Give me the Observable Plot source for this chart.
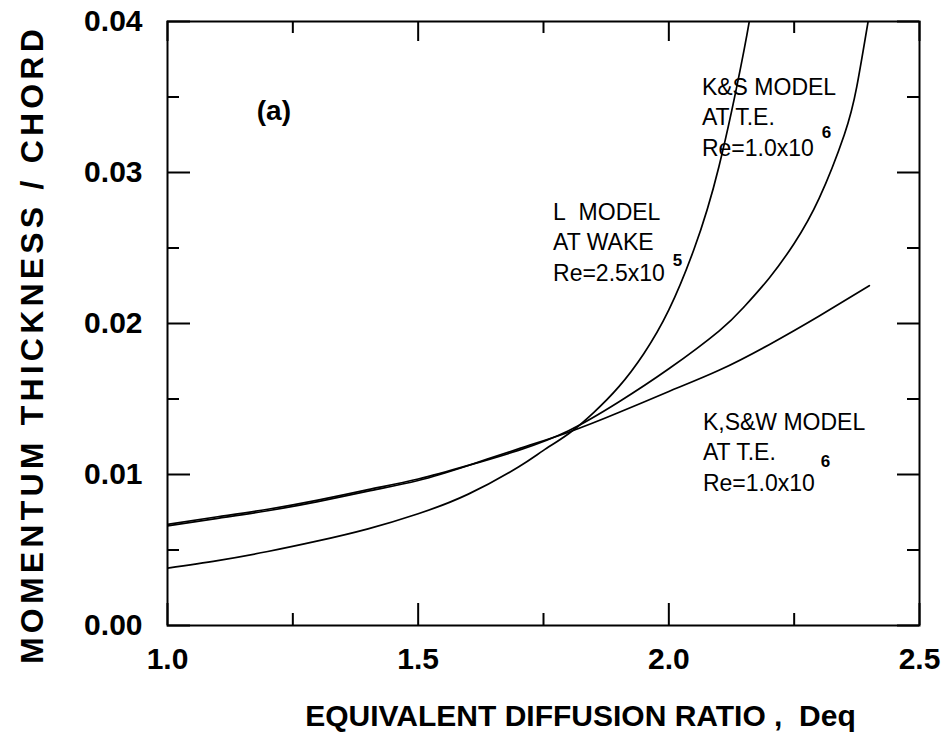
<!DOCTYPE html>
<html><head><meta charset="utf-8">
<script src="https://cdn.jsdelivr.net/npm/d3@7"></script>
<script src="https://cdn.jsdelivr.net/npm/@observablehq/plot@0.6"></script>
<style>
body{margin:0;background:#fff;}
</style></head><body><div id="chart"></div>
<script>
// Series: K,S&W model at T.E.
const kswX = [1.0, 1.1, 1.2, 1.3, 1.4, 1.5, 1.6, 1.7, 1.8, 1.9, 2.0, 2.1, 2.2, 2.3, 2.4];
const kswY = [0.0066, 0.0071, 0.0076, 0.0082, 0.0089, 0.0096, 0.0106, 0.0117, 0.0128, 0.0141, 0.0155, 0.0169, 0.0186, 0.0205, 0.0225];
// Series: K&S model at T.E.
const ksX = [1.0, 1.1, 1.2, 1.3, 1.4, 1.5, 1.6, 1.7, 1.8, 1.9, 2.0, 2.1, 2.15, 2.2, 2.25, 2.3, 2.35, 2.375, 2.4];
const ksY = [0.0067, 0.0072, 0.0077, 0.0083, 0.0090, 0.0097, 0.0106, 0.0116, 0.0129, 0.0148, 0.0170, 0.0195, 0.0211, 0.0230, 0.0253, 0.0283, 0.0325, 0.0357, 0.0405];
// Series: L model at wake
const lX = [1.0, 1.1, 1.2, 1.3, 1.4, 1.5, 1.6, 1.7, 1.75, 1.8, 1.85, 1.9, 1.95, 2.0, 2.05, 2.1, 2.15, 2.17];
const lY = [0.0038, 0.0043, 0.0049, 0.0056, 0.0064, 0.0074, 0.0087, 0.0105, 0.0116, 0.0127, 0.0141, 0.0158, 0.0180, 0.0209, 0.0249, 0.0304, 0.0381, 0.0420];

const seriesNames = ["K,S&W", "K&S", "L"];
const seriesX = [kswX, ksX, lX];
const seriesY = [kswY, ksY, lY];

// Axis ticks
const xMajor = [1.0, 1.5, 2.0, 2.5];
const xMinor = [1.25, 1.75, 2.25];
const yMajor = [0.00, 0.01, 0.02, 0.03, 0.04];
const yMinor = [0.005, 0.015, 0.025, 0.035];

// Annotations
const noteText = ["(a)", "L\u00a0\u00a0MODEL\nAT WAKE\nRe=2.5x10", "K&S MODEL\nAT T.E.\nRe=1.0x10", "K,S&W MODEL\nAT T.E.\nRe=1.0x10"];
const noteX = [1.178, 1.769, 2.066, 2.068];
const noteY = [0.0341, 0.0255, 0.03377, 0.01159];
const supText = ["5", "6", "6"];
const supX = [2.008, 2.305, 2.303];
const supY = [0.0242, 0.03265, 0.01085];

const rows = [];
seriesNames.forEach((name, i) => seriesX[i].forEach((x, j) => rows.push({series: name, x, y: seriesY[i][j]})));
const notes = noteText.map((t, i) => ({t, x: noteX[i], y: noteY[i]}));
const sups = supText.map((t, i) => ({t, x: supX[i], y: supY[i]}));

const W = 950, H = 741, mL = 167, mR = 31, mT = 21, mB = 116;
const fw = W - mL - mR, fh = H - mT - mB;

const chart = Plot.plot({
  width: W, height: H,
  marginLeft: mL, marginRight: mR, marginTop: mT, marginBottom: mB,
  style: {fontFamily: "'Liberation Sans', Arial, sans-serif", background: "white", color: "black"},
  x: {domain: [1, 2.5]},
  y: {domain: [0, 0.04]},
  marks: [
    Plot.line(rows, {x: "x", y: "y", z: "series", stroke: "black", strokeWidth: 1.7, curve: "natural", clip: true}),
    Plot.frame({stroke: "black", strokeWidth: 2}),
    // bottom ticks (inward)
    Plot.tickX(xMajor, {x: d => d, insetTop: fh - 22, strokeWidth: 2}),
    Plot.tickX(xMinor, {x: d => d, insetTop: fh - 12, strokeWidth: 2}),
    // top ticks
    Plot.tickX(xMajor, {x: d => d, insetBottom: fh - 20, strokeWidth: 2}),
    Plot.tickX(xMinor, {x: d => d, insetBottom: fh - 12, strokeWidth: 2}),
    // left ticks
    Plot.tickY(yMajor, {y: d => d, insetRight: fw - 23, strokeWidth: 2}),
    Plot.tickY(yMinor, {y: d => d, insetRight: fw - 12, strokeWidth: 2}),
    // right ticks
    Plot.tickY(yMajor, {y: d => d, insetLeft: fw - 22, strokeWidth: 2}),
    Plot.tickY(yMinor, {y: d => d, insetLeft: fw - 12, strokeWidth: 2}),
    Plot.axisX(xMajor, {tickSize: 0, tickPadding: 22, fontSize: 30, fontWeight: "bold", tickFormat: d3.format(".1f"), label: null}),
    Plot.axisY(yMajor, {tickSize: 0, tickPadding: 25, fontSize: 30, fontWeight: "bold", tickFormat: d3.format(".2f"), label: null}),
    Plot.text(["EQUIVALENT DIFFUSION RATIO ,\u00a0\u00a0Deq"], {frameAnchor: "bottom", lineAnchor: "middle", dy: 91, dx: 37, fontSize: 30, fontWeight: "bold"}),
    Plot.text(["MOMENTUM THICKNESS / CHORD"], {frameAnchor: "left", textAnchor: "middle", lineAnchor: "middle", rotate: -90, dx: -135, dy: 21, fontSize: 32, fontWeight: "bold"}),
    Plot.text(notes.slice(0, 1), {x: "x", y: "y", text: "t", textAnchor: "start", fontSize: 28, fontWeight: "bold"}),
    Plot.text(notes.slice(1), {x: "x", y: "y", text: "t", textAnchor: "start", lineAnchor: "middle", lineHeight: 1.33, fontSize: 23}),
    Plot.text(sups, {x: "x", y: "y", text: "t", textAnchor: "start", fontSize: 17, fontWeight: "bold"})
  ]
});
chart.querySelectorAll("text").forEach(t => {
  if (t.textContent.startsWith("MOMENTUM")) t.style.letterSpacing = "4.2px";
});
document.getElementById("chart").append(chart);
</script></body></html>
